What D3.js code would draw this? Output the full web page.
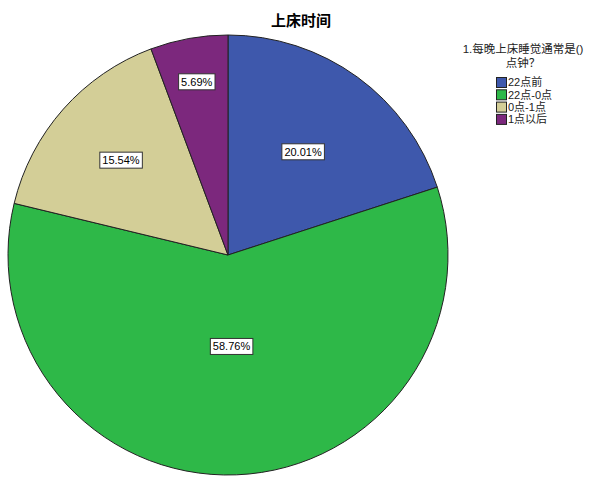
<!DOCTYPE html>
<html><head><meta charset="utf-8">
<script src="https://cdn.jsdelivr.net/npm/d3@7"></script>
<style>html,body{margin:0;padding:0;background:#fff;}</style>
</head><body>
<svg id="chart" width="602" height="482"></svg>
<script>
const title = "上床时间";
const legendTitle = ["1.每晚上床睡觉通常是()", "点钟？"];
const categories = ["22点前", "22点-0点", "0点-1点", "1点以后"];
const values = [20.01, 58.76, 15.54, 5.69];
const colors = ["#3e58ac", "#2eb848", "#d3ce97", "#7c287d"];
const labelFrac = [0.58, 0.416, 0.65, 0.8];

const svg = d3.select("#chart");
const cx = 228, cy = 255, R = 220;
const font = "'Liberation Sans', Arial, 'Noto Sans CJK SC', sans-serif";

svg.append("text").attr("x", 301).attr("y", 26).attr("text-anchor", "middle")
  .attr("font-family", "'Noto Sans CJK SC', sans-serif").attr("font-weight", "bold")
  .attr("font-size", 15).attr("fill", "#000").text(title);

const pie = d3.pie().sort(null).value(d => d)(values);
const arc = d3.arc().innerRadius(0).outerRadius(R);
const g = svg.append("g").attr("transform", `translate(${cx},${cy})`);
g.selectAll("path").data(pie).join("path")
  .attr("d", arc).attr("fill", (d, i) => colors[i])
  .attr("stroke", "#222").attr("stroke-width", 1);

pie.forEach((d, i) => {
  const a = (d.startAngle + d.endAngle) / 2;
  const r = R * labelFrac[i];
  const x = Math.sin(a) * r, y = -Math.cos(a) * r;
  const lg = g.append("g").attr("transform", `translate(${x},${y})`);
  const t = lg.append("text").attr("text-anchor", "middle").attr("dy", "0.36em")
    .attr("font-family", font).attr("font-size", 11).attr("fill", "#000")
    .text(values[i].toFixed(2) + "%");
  const bb = t.node().getBBox();
  lg.insert("rect", "text").attr("x", bb.x - 2.5).attr("y", -8).attr("width", bb.width + 5).attr("height", 16)
    .attr("fill", "#fff").attr("stroke", "#333").attr("stroke-width", 1);
});

const leg = svg.append("g");
legendTitle.forEach((s, i) => {
  leg.append("text").attr("x", 523).attr("y", 53 + i * 13.5).attr("text-anchor", "middle")
    .attr("font-family", font).attr("font-size", 11.5).attr("fill", "#222").text(s);
});
categories.forEach((c, i) => {
  const y = 82.5 + i * 12.3;
  leg.append("rect").attr("x", 496.5).attr("y", y - 5).attr("width", 10).attr("height", 10)
    .attr("fill", colors[i]).attr("stroke", "#222").attr("stroke-width", 1);
  leg.append("text").attr("x", 508).attr("y", y).attr("dy", "0.36em")
    .attr("font-family", font).attr("font-size", 11).attr("fill", "#222").text(c);
});
</script>
</body></html>
